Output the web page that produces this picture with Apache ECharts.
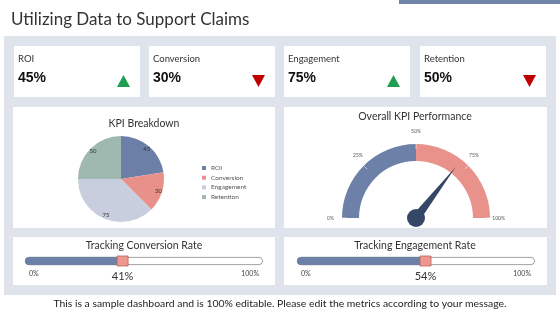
<!DOCTYPE html>
<html>
<head>
<meta charset="utf-8">
<script src="https://cdn.jsdelivr.net/npm/echarts@6/dist/echarts.min.js"></script>
<style>
  html, body { margin: 0; padding: 0; background: #fff; }
  #main { width: 560px; height: 315px; }
</style>
</head>
<body>
<div id="main"></div>
<script>
// data
const kpiNames = ['ROI', 'Conversion', 'Engagement', 'Retention']
const kpiValues = [45, 30, 75, 50]
const kpiTrend = ['up', 'down', 'up', 'down']
const overallKpi = 71
const trackNames = ['Tracking Conversion Rate', 'Tracking Engagement Rate']
const trackValues = [41, 54]

const FONT = 'Lato, "Noto Sans", sans-serif'
const BLUE = '#6d81a8'
const SALMON = '#e9928b'
const pieColors = ['#6b7fa7', '#e8918a', '#c8cede', '#9fb8b0']

const chartDom = echarts.init(document.getElementById('main'))

// layout boxes
const kpiX = [14, 149, 284, 420]
const trackX = [25, 297]
const trackCenter = [144, 415]

const graphic = [
  { type: 'rect', shape: { x: 399, y: 0, width: 161, height: 4 }, style: { fill: '#7084a8' } },
  {
    type: 'text', x: 11, y: 20,
    style: { text: 'Utilizing Data to Support Claims', fill: '#333', fontSize: 17, fontFamily: FONT, verticalAlign: 'middle' },
  },
  { type: 'rect', shape: { x: 4, y: 36, width: 552, height: 259 }, style: { fill: '#dfe4ec' } },
  // panels
  { type: 'rect', shape: { x: 13, y: 107, width: 262, height: 121 }, style: { fill: '#fff' } },
  { type: 'rect', shape: { x: 284, y: 107, width: 263, height: 121 }, style: { fill: '#fff' } },
  { type: 'rect', shape: { x: 13, y: 237, width: 262, height: 48 }, style: { fill: '#fff' } },
  { type: 'rect', shape: { x: 284, y: 237, width: 263, height: 48 }, style: { fill: '#fff' } },
  {
    type: 'text', x: 144, y: 124,
    style: { text: 'KPI Breakdown', fill: '#333', fontSize: 10.5, fontFamily: FONT, align: 'center', verticalAlign: 'middle' },
  },
  {
    type: 'text', x: 415, y: 117,
    style: { text: 'Overall KPI Performance', fill: '#333', fontSize: 10.5, fontFamily: FONT, align: 'center', verticalAlign: 'middle' },
  },
  {
    type: 'text', x: 280, y: 304,
    style: {
      text: 'This is a sample dashboard and is 100% editable. Please edit the metrics according to your message.',
      fill: '#222', fontSize: 10.4, fontFamily: FONT, align: 'center', verticalAlign: 'middle',
    },
  },
]

kpiNames.forEach((name, i) => {
  const x = kpiX[i]
  graphic.push({ type: 'rect', shape: { x: x, y: 46, width: 126, height: 51 }, style: { fill: '#fff' } })
  graphic.push({
    type: 'text', x: x + 4, y: 59,
    style: { text: name, fill: '#333', fontSize: 9.5, fontFamily: FONT, verticalAlign: 'middle' },
  })
  graphic.push({
    type: 'text', x: x + 4, y: 78,
    style: { text: kpiValues[i] + '%', fill: '#111', fontSize: 14, fontWeight: 'bold', fontFamily: '"Liberation Sans", Arial', verticalAlign: 'middle' },
  })
  const up = kpiTrend[i] === 'up'
  const tx = x + 103
  graphic.push({
    type: 'polygon',
    shape: {
      points: up
        ? [[tx, 87], [tx + 6.5, 75], [tx + 13, 87]]
        : [[tx, 75], [tx + 13, 75], [tx + 6.5, 87]],
    },
    style: { fill: up ? '#1f9e52' : '#c00000' },
  })
})

trackNames.forEach((name, i) => {
  graphic.push({
    type: 'text', x: trackCenter[i], y: 246,
    style: { text: name, fill: '#333', fontSize: 10.5, fontFamily: FONT, align: 'center', verticalAlign: 'middle' },
  })
})

const grids = trackX.map((x) => ({ left: x, top: 257, width: 238, height: 8 }))

const xAxes = trackX.map((x, i) => ({
  type: 'value',
  gridIndex: i,
  min: 0,
  max: 100,
  interval: 100,
  axisLine: { show: false },
  axisTick: { show: false },
  splitLine: { show: false },
  axisLabel: {
    formatter: '{value}%',
    fontSize: 7,
    color: '#444',
    fontFamily: FONT,
    margin: 5,
    padding: [0, 4, 0, 4],
    alignMinLabel: 'left',
    alignMaxLabel: 'right',
  },
}))

const yAxes = trackX.map((x, i) => ({
  type: 'category',
  gridIndex: i,
  data: ['rate'],
  show: false,
}))

const trackSeries = []
trackValues.forEach((v, i) => {
  trackSeries.push({
    type: 'bar',
    xAxisIndex: i,
    yAxisIndex: i,
    data: [100],
    barWidth: 8,
    silent: true,
    itemStyle: { color: '#fff', borderColor: '#8a8a8a', borderWidth: 0.8, borderRadius: 4 },
    z: 1,
  })
  trackSeries.push({
    type: 'bar',
    xAxisIndex: i,
    yAxisIndex: i,
    data: [v],
    barWidth: 8,
    barGap: '-100%',
    silent: true,
    itemStyle: { color: BLUE, borderColor: '#5a6d92', borderWidth: 0.5, borderRadius: [4, 0, 0, 4] },
    z: 2,
  })
  trackSeries.push({
    type: 'scatter',
    xAxisIndex: i,
    yAxisIndex: i,
    data: [[v, 0]],
    symbol: 'rect',
    symbolSize: [11, 10],
    silent: true,
    itemStyle: { color: '#ec9891', borderColor: '#b5645d', borderWidth: 0.8, opacity: 1 },
    label: {
      show: true,
      position: 'bottom',
      distance: 5,
      formatter: (p) => p.value[0] + '%',
      fontSize: 11,
      color: '#333',
      fontFamily: FONT,
    },
    z: 3,
  })
})

const pieData = kpiNames.map((n, i) => ({ name: n, value: kpiValues[i] }))

const option = {
  animation: false,
  color: pieColors,
  graphic: graphic,
  grid: grids,
  xAxis: xAxes,
  yAxis: yAxes,
  legend: {
    data: kpiNames,
    orient: 'vertical',
    left: 197,
    top: 159,
    itemWidth: 4,
    itemHeight: 4,
    itemGap: 1.7,
    icon: 'rect',
    selectedMode: false,
    textStyle: { fontSize: 6.5, lineHeight: 8, color: '#555', fontFamily: FONT },
  },
  series: [
    {
      type: 'pie',
      center: [121, 179],
      radius: 43,
      startAngle: 90,
      clockwise: true,
      data: pieData,
      silent: true,
      itemStyle: { borderWidth: 0 },
      label: { show: false },
      labelLine: { show: false },
    },
    {
      // label ring
      type: 'pie',
      center: [121, 179],
      radius: [30, 43],
      startAngle: 90,
      clockwise: true,
      data: pieData,
      silent: true,
      itemStyle: { color: 'rgba(0,0,0,0)', borderWidth: 0 },
      label: { show: true, position: 'inside', formatter: '{c}', fontSize: 6, color: '#333', fontFamily: FONT },
      labelLine: { show: false },
    },
    {
      type: 'gauge',
      center: [416, 218],
      radius: 74,
      startAngle: 180,
      endAngle: 0,
      min: 0,
      max: 100,
      splitNumber: 4,
      silent: true,
      axisLine: { lineStyle: { width: 17, color: [[0.5, BLUE], [1, SALMON]] } },
      axisTick: { show: false },
      splitLine: { show: true, length: 5, distance: -17, lineStyle: { color: 'rgba(255,255,255,0.55)', width: 1 } },
      axisLabel: { distance: -3, fontSize: 5, color: '#555', fontFamily: FONT, formatter: '{value}%' },
      pointer: { icon: 'triangle', length: 65, width: 9, itemStyle: { color: '#344766' } },
      anchor: { show: true, showAbove: true, size: 18, itemStyle: { color: '#344766' } },
      title: { show: false },
      detail: { show: false },
      data: [{ value: overallKpi }],
    },
    ...trackSeries,
  ],
}

chartDom.setOption(option)
</script>
</body>
</html>
